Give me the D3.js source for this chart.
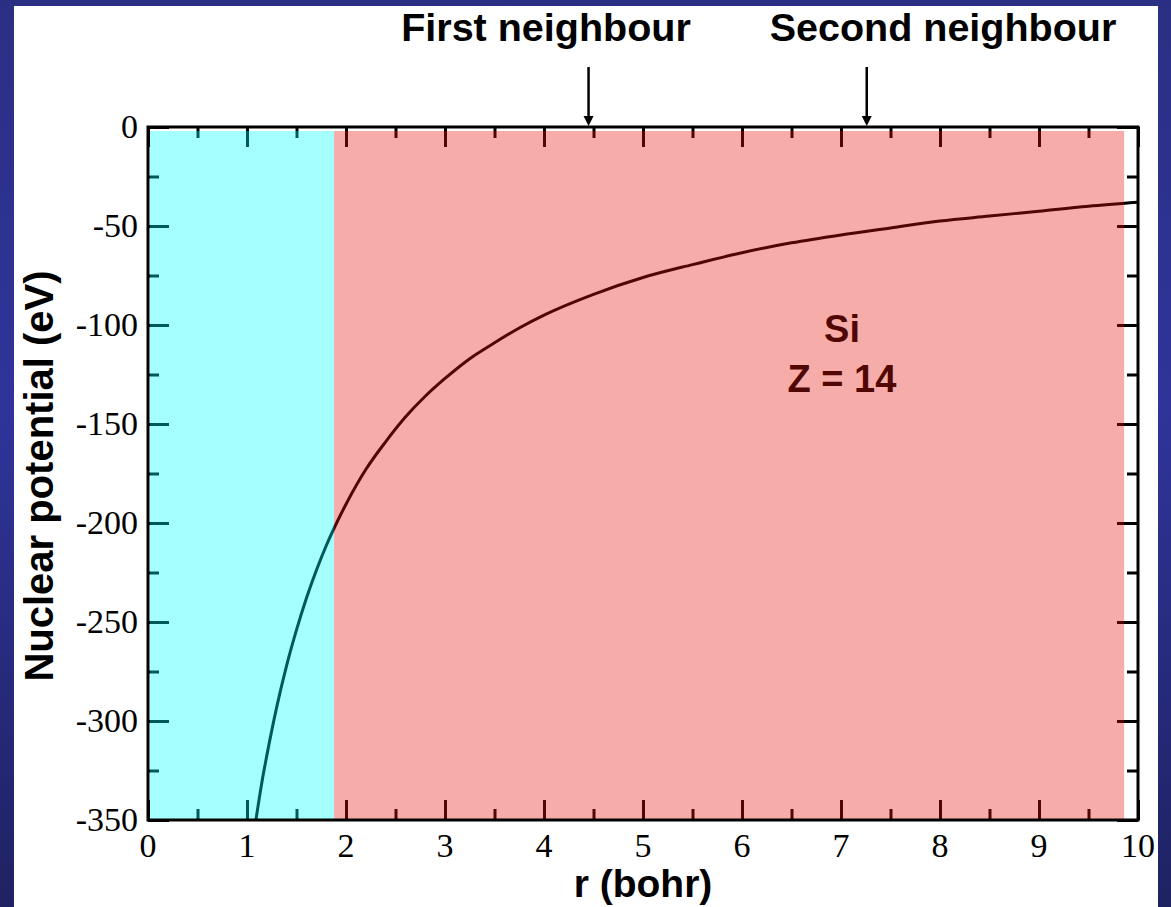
<!DOCTYPE html>
<html>
<head>
<meta charset="utf-8">
<script src="https://cdn.jsdelivr.net/npm/d3@7/dist/d3.min.js"></script>
<style>
  html, body { margin: 0; padding: 0; background: #2d3190; }
  svg { display: block; }
</style>
</head>
<body>
<svg id="chart" width="1171" height="907"></svg>
<script>
// Coulomb potential of the Si nucleus, values in eV against r in bohr
const radius = [1.09, 1.15, 1.2, 1.3, 1.4, 1.5, 1.6, 1.7, 1.8, 1.9, 2.0, 2.2, 2.4, 2.6, 2.8, 3.0,
                3.25, 3.5, 3.75, 4.0, 4.5, 5.0, 5.5, 6.0, 6.5, 7.0, 7.5, 8.0, 8.5, 9.0, 9.5, 10.0];
const potential = [-350, -331, -317.5, -293, -272, -254, -238, -224, -211.5, -200.5, -190.5, -173, -159, -146.5, -136, -127,
                   -117, -109, -101.5, -95, -84.5, -76, -69.5, -63.5, -58.5, -54.5, -51, -47.5, -45, -42.5, -40, -38];

// shaded regions (r ranges)
const regionNames = ["core", "interstitial"];
const regionStart = [0, 1.88];
const regionEnd = [1.88, 9.86];
const regionColors = ["#00ffff", "#e5150a"];

// neighbour shells marked above the frame
const neighbourLabels = ["First neighbour", "Second neighbour"];
const neighbourR = [4.45, 7.26];
const neighbourLabelX = [546, 943];

const xTicks = [0, 1, 2, 3, 4, 5, 6, 7, 8, 9, 10];
const yTicks = [0, -50, -100, -150, -200, -250, -300, -350];

const svg = d3.select("#chart");
const W = 1171, H = 907;

// slide background
const defs = svg.append("defs");
const grad = defs.append("linearGradient").attr("id", "bg").attr("x1", 0).attr("y1", 0).attr("x2", 0).attr("y2", 1);
grad.append("stop").attr("offset", "0%").attr("stop-color", "#2b2f84");
grad.append("stop").attr("offset", "45%").attr("stop-color", "#30349a");
grad.append("stop").attr("offset", "100%").attr("stop-color", "#1f2262");
svg.append("rect").attr("width", W).attr("height", H).attr("fill", "url(#bg)");
svg.append("rect").attr("x", 14).attr("y", 6).attr("width", 1144).attr("height", H - 6).attr("fill", "#ffffff");

const pLeft = 148, pRight = 1138, pTop = 127, pBottom = 820;
const x = d3.scaleLinear().domain([0, 10]).range([pLeft, pRight]);
const y = d3.scaleLinear().domain([-350, 0]).range([pBottom, pTop]);

const serif = "'Liberation Serif', 'Times New Roman', serif";
const sans = "'Liberation Sans', Arial, Helvetica, sans-serif";

// clip for the curve
defs.append("clipPath").attr("id", "plotClip")
  .append("rect").attr("x", pLeft).attr("y", pTop).attr("width", pRight - pLeft).attr("height", pBottom - pTop);

// curve
const pts = radius.map((r, i) => [r, potential[i]]);
svg.append("path")
  .datum(pts)
  .attr("clip-path", "url(#plotClip)")
  .attr("fill", "none")
  .attr("stroke", "#000")
  .attr("stroke-width", 3)
  .attr("d", d3.line().x(d => x(d[0])).y(d => y(d[1])).curve(d3.curveMonotoneX));

// annotation inside the plot
svg.append("text").attr("x", 842).attr("y", 342).attr("text-anchor", "middle")
  .attr("font-family", sans).attr("font-weight", "bold").attr("font-size", 38).attr("fill", "#000").text("Si");
svg.append("text").attr("x", 842).attr("y", 392).attr("text-anchor", "middle")
  .attr("font-family", sans).attr("font-weight", "bold").attr("font-size", 38).attr("fill", "#000").text("Z = 14");

// axes with inward ticks on all four sides
const tickStroke = g => {
  g.select(".domain").remove();
  g.selectAll("text").remove();
  g.selectAll("line").attr("stroke", "#000").attr("stroke-width", 3);
};
const xMinor = d3.range(0.5, 10, 1);
const yMinor = d3.range(-325, 0, 50);

svg.append("g").attr("transform", `translate(0,${pBottom})`)
  .call(d3.axisTop(x).tickValues(xTicks).tickSize(20)).call(tickStroke);
svg.append("g").attr("transform", `translate(0,${pBottom})`)
  .call(d3.axisTop(x).tickValues(xMinor).tickSize(11)).call(tickStroke);
svg.append("g").attr("transform", `translate(0,${pTop})`)
  .call(d3.axisBottom(x).tickValues(xTicks).tickSize(20)).call(tickStroke);
svg.append("g").attr("transform", `translate(0,${pTop})`)
  .call(d3.axisBottom(x).tickValues(xMinor).tickSize(11)).call(tickStroke);
svg.append("g").attr("transform", `translate(${pLeft},0)`)
  .call(d3.axisRight(y).tickValues(yTicks).tickSize(21)).call(tickStroke);
svg.append("g").attr("transform", `translate(${pLeft},0)`)
  .call(d3.axisRight(y).tickValues(yMinor).tickSize(11)).call(tickStroke);
svg.append("g").attr("transform", `translate(${pRight},0)`)
  .call(d3.axisLeft(y).tickValues(yTicks).tickSize(21)).call(tickStroke);
svg.append("g").attr("transform", `translate(${pRight},0)`)
  .call(d3.axisLeft(y).tickValues(yMinor).tickSize(11)).call(tickStroke);

// translucent regions over curve and ticks
svg.append("g").selectAll("rect").data(regionNames).join("rect")
  .attr("x", (d, i) => Math.max(x(regionStart[i]), pLeft + 2))
  .attr("y", pTop + 4)
  .attr("width", (d, i) => x(regionEnd[i]) - Math.max(x(regionStart[i]), pLeft + 2))
  .attr("height", pBottom - pTop - 5)
  .attr("fill", (d, i) => regionColors[i])
  .attr("fill-opacity", 0.35);

// frame
svg.append("rect").attr("x", pLeft).attr("y", pTop).attr("width", pRight - pLeft).attr("height", pBottom - pTop)
  .attr("fill", "none").attr("stroke", "#000").attr("stroke-width", 3);

// tick labels
svg.append("g").selectAll("text").data(xTicks).join("text")
  .attr("x", d => x(d)).attr("y", 857).attr("text-anchor", "middle")
  .attr("font-family", serif).attr("font-size", 34).attr("fill", "#000")
  .text(d => d);
svg.append("g").selectAll("text").data(yTicks).join("text")
  .attr("x", 138).attr("y", d => y(d) + 11).attr("text-anchor", "end")
  .attr("font-family", serif).attr("font-size", 34).attr("fill", "#000")
  .text(d => d);

// axis titles
svg.append("text").attr("x", x(5)).attr("y", 897).attr("text-anchor", "middle")
  .attr("font-family", sans).attr("font-weight", "bold").attr("font-size", 39).attr("fill", "#000")
  .text("r (bohr)");
svg.append("text").attr("transform", "translate(53,476) rotate(-90)").attr("text-anchor", "middle")
  .attr("font-family", sans).attr("font-weight", "bold").attr("font-size", 40).attr("fill", "#000")
  .text("Nuclear potential (eV)");

// neighbour labels and arrows
neighbourLabels.forEach((lab, i) => {
  svg.append("text").attr("x", neighbourLabelX[i]).attr("y", 41).attr("text-anchor", "middle")
    .attr("font-family", sans).attr("font-weight", "bold").attr("font-size", 39.5).attr("fill", "#000")
    .text(lab);
  const ax = x(neighbourR[i]);
  svg.append("line").attr("x1", ax).attr("x2", ax).attr("y1", 67).attr("y2", pTop - 8)
    .attr("stroke", "#000").attr("stroke-width", 2.5);
  svg.append("path").attr("d", `M${ax - 5},${pTop - 11} L${ax + 5},${pTop - 11} L${ax},${pTop - 1} Z`).attr("fill", "#000");
});
</script>
</body>
</html>
